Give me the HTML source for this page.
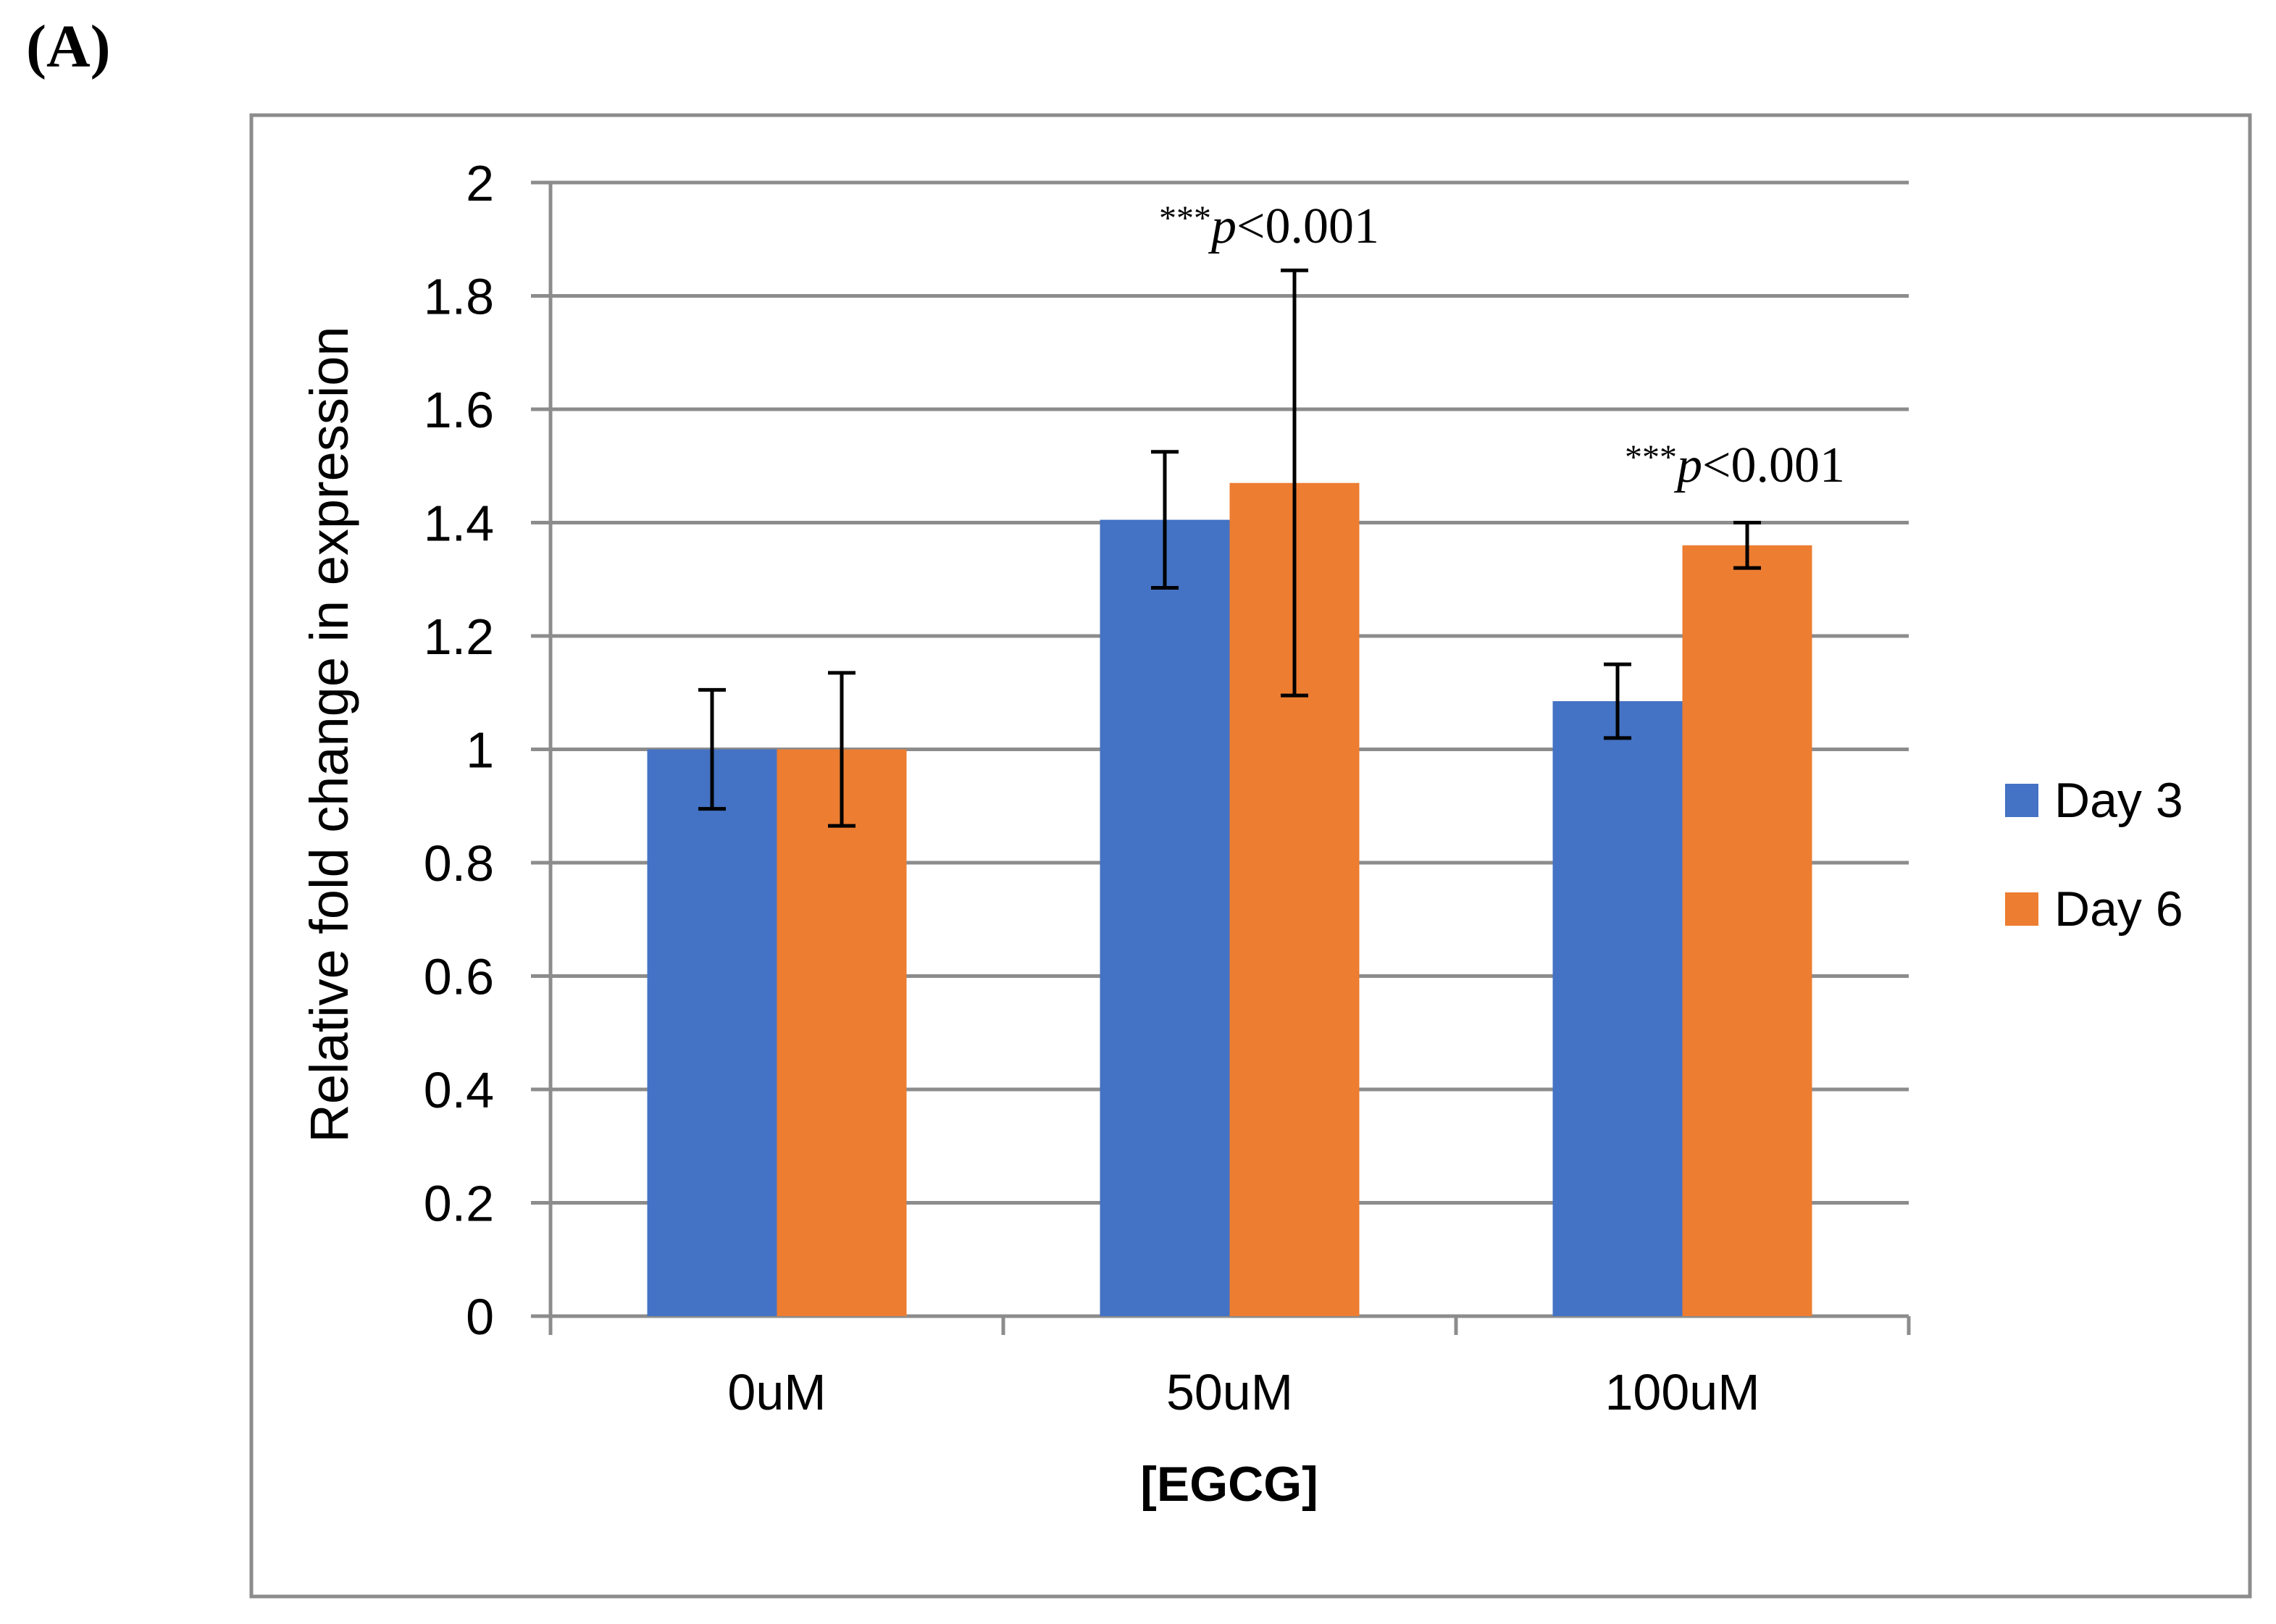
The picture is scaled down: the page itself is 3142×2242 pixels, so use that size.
<!DOCTYPE html>
<html><head><meta charset="utf-8"><style>
html,body{margin:0;padding:0;background:#fff;}
svg{display:block;}
</style></head><body>
<svg id="chart" width="3142" height="2242" viewBox="0 0 3142 2242" xmlns="http://www.w3.org/2000/svg">
<text x="36" y="92" font-family="Liberation Serif, serif" font-size="84" font-weight="bold">(A)</text>
<rect x="347" y="159" width="2759" height="2045" fill="none" stroke="#8c8c8c" stroke-width="5"/>
<g id="grid"></g>
<g id="bars"></g>
<g id="errs"></g>
<g id="labels"></g>
<text transform="translate(480,1014) rotate(-90)" text-anchor="middle" font-family="Liberation Sans, sans-serif" font-size="74">Relative fold change in expression</text>
<text x="1697" y="2072" text-anchor="middle" font-family="Liberation Sans, sans-serif" font-size="68" font-weight="bold">[EGCG]</text>
<g>
<rect x="2768" y="1082" width="46" height="46" fill="#4472c4"/>
<text x="2836" y="1128" font-family="Liberation Sans, sans-serif" font-size="68">Day 3</text>
<rect x="2768" y="1232" width="46" height="46" fill="#ed7d31"/>
<text x="2836" y="1278" font-family="Liberation Sans, sans-serif" font-size="68">Day 6</text>
</g>
<text x="1600" y="335" font-family="Liberation Serif, serif" font-size="70"><tspan font-size="48" dy="-18">***</tspan><tspan font-style="italic" dy="18">p</tspan>&lt;0.001</text>
<text x="2243" y="665" font-family="Liberation Serif, serif" font-size="70"><tspan font-size="48" dy="-18">***</tspan><tspan font-style="italic" dy="18">p</tspan>&lt;0.001</text>
</svg>
<script>
const categories = ["0uM", "50uM", "100uM"];
const day3 = [1.0, 1.405, 1.085];
const day6 = [1.0, 1.47, 1.36];
const day3Err = [0.105, 0.12, 0.065];
const day6Err = [0.135, 0.375, 0.04];
const yTicks = ["0", "0.2", "0.4", "0.6", "0.8", "1", "1.2", "1.4", "1.6", "1.8", "2"];

const NS = "http://www.w3.org/2000/svg";
const X0 = 760, X1 = 2635, Y0 = 1817, Y1 = 252, YMAX = 2;
const catW = (X1 - X0) / categories.length;
const barW = 179;
function y(v){ return Y0 - (v / YMAX) * (Y0 - Y1); }
function catX(i){ return X0 + catW * i + catW / 2; }
function mk(tag, attrs, parent){
  const e = document.createElementNS(NS, tag);
  for (const k in attrs) e.setAttribute(k, attrs[k]);
  parent.appendChild(e); return e;
}
const grid = document.getElementById('grid');
const bars = document.getElementById('bars');
const errs = document.getElementById('errs');
const labels = document.getElementById('labels');

yTicks.forEach((t) => {
  const v = parseFloat(t), yy = y(v);
  const l = mk('line', {x1: 733, x2: X1, y1: yy, y2: yy, stroke: '#8c8c8c', 'stroke-width': 5}, grid);
  
  
  const tx = mk('text', {x: 682, y: yy + 25, 'text-anchor': 'end', 'font-family': 'Liberation Sans, sans-serif', 'font-size': 70}, labels);
  tx.textContent = t;
  
  
});
const ya = mk('line', {x1: X0, x2: X0, y1: Y1, y2: Y0 + 26, stroke: '#8c8c8c', 'stroke-width': 5}, grid);


for (let i = 0; i <= categories.length; i++) {
  const xx = X0 + catW * i;
  const tk = mk('line', {x1: xx, x2: xx, y1: Y0, y2: Y0 + 26, stroke: '#8c8c8c', 'stroke-width': 5}, grid);
  
  
}
categories.forEach((c, i) => {
  const cx = catX(i);
  [[day3, day3Err, '#4472c4', -1, 'day3'], [day6, day6Err, '#ed7d31', 0, 'day6']].forEach(([vals, er, col, off, nm]) => {
    const bx = cx + off * barW;
    const r = mk('rect', {x: bx, y: y(vals[i]), width: barW, height: Y0 - y(vals[i]), fill: col}, bars);
    
    
    const ex = bx + barW / 2, top = y(vals[i] + er[i]), bot = y(vals[i] - er[i]);
    const g = mk('g', {stroke: '#000', 'stroke-width': 5}, errs);
    
    
    mk('line', {x1: ex, x2: ex, y1: top, y2: bot}, g);
    mk('line', {x1: ex - 19, x2: ex + 19, y1: top, y2: top}, g);
    mk('line', {x1: ex - 19, x2: ex + 19, y1: bot, y2: bot}, g);
  });
  const t = mk('text', {x: cx, y: 1946, 'text-anchor': 'middle', 'font-family': 'Liberation Sans, sans-serif', 'font-size': 70}, labels);
  t.textContent = c;
  
  
});
</script>
</body></html>
